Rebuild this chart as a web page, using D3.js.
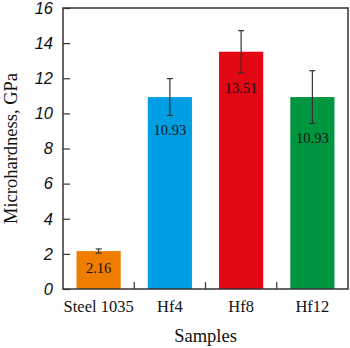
<!DOCTYPE html>
<html>
<head>
<meta charset="utf-8">
<script src="https://cdn.jsdelivr.net/npm/d3@7"></script>
<style>
  body { margin: 0; background: #fff; }
  svg { display: block; }
</style>
</head>
<body>
<svg id="chart" width="350" height="348"></svg>
<script>
const samples = ["Steel 1035", "Hf4", "Hf8", "Hf12"];
const hardness = [2.16, 10.93, 13.51, 10.93];
const errors = [0.12, 1.05, 1.2, 1.5];
const colors = ["#ef7d00", "#009fe3", "#e30613", "#009640"];
const yTicks = [0, 2, 4, 6, 8, 10, 12, 14, 16];

const data = samples.map((s, i) => ({ name: s, value: hardness[i], err: errors[i], color: colors[i] }));

const svg = d3.select("#chart");
const margin = { top: 8, right: 2, bottom: 59, left: 63 };
const width = 350 - margin.left - margin.right;
const height = 348 - margin.top - margin.bottom;

const g = svg.append("g").attr("transform", `translate(${margin.left},${margin.top})`);

// scales
const x = d3.scaleBand().domain(samples).range([0, width]).paddingInner(0.38).paddingOuter(0.19);
const y = d3.scaleLinear().domain([0, 16]).range([height, 0]);

// bars
g.selectAll("rect.bar")
  .data(data)
  .join("rect")
  .attr("class", "bar")
  .attr("x", (d) => x(d.name))
  .attr("y", (d) => y(d.value))
  .attr("width", x.bandwidth())
  .attr("height", (d) => y(0) - y(d.value))
  .attr("fill", (d) => d.color);

// error bars
const eb = g.append("g").attr("stroke", "#333").attr("stroke-width", 1.2);
data.forEach((d) => {
  const cx = x(d.name) + x.bandwidth() / 2;
  eb.append("line").attr("x1", cx).attr("x2", cx).attr("y1", y(d.value + d.err)).attr("y2", y(d.value - d.err));
  eb.append("line").attr("x1", cx - 3).attr("x2", cx + 3).attr("y1", y(d.value + d.err)).attr("y2", y(d.value + d.err));
  eb.append("line").attr("x1", cx - 3).attr("x2", cx + 3).attr("y1", y(d.value - d.err)).attr("y2", y(d.value - d.err));
});

// value labels
g.selectAll("text.val")
  .data(data)
  .join("text")
  .attr("class", "val")
  .attr("x", (d) => x(d.name) + x.bandwidth() / 2)
  .attr("y", (d) => y(d.value - d.err) + 20)
  .attr("text-anchor", "middle")
  .attr("font-family", "'Liberation Serif', 'Times New Roman', serif")
  .attr("font-size", 14.5)
  .attr("fill", "#111")
  .text((d) => d.value.toFixed(2));

// frame
g.append("rect")
  .attr("width", width)
  .attr("height", height)
  .attr("fill", "none")
  .attr("stroke", "#333")
  .attr("stroke-width", 1.5);

// y axis
const yAxis = d3.axisLeft(y).tickValues(yTicks).tickSize(-7).tickPadding(10);
const ya = g.append("g").call(yAxis);
ya.select(".domain").remove();
ya.selectAll("line").attr("stroke", "#333").attr("stroke-width", 1.2);
ya.selectAll("text")
  .attr("font-family", "'Liberation Sans', Arial, sans-serif")
  .attr("font-style", "italic")
  .attr("font-size", 16.5)
  .attr("fill", "#111");

// x axis: labels at band centres, ticks between bands
const xAxis = d3.axisBottom(x).tickSize(0).tickPadding(11);
const xa = g.append("g").attr("transform", `translate(0,${height})`).call(xAxis);
xa.select(".domain").remove();
xa.selectAll("text")
  .attr("font-family", "'Liberation Serif', 'Times New Roman', serif")
  .attr("font-size", 16.5)
  .attr("fill", "#111");

const step = x.step();
g.append("g")
  .selectAll("line")
  .data(samples.slice(1))
  .join("line")
  .attr("x1", (d) => x(d) - step * x.paddingInner() / 2)
  .attr("x2", (d) => x(d) - step * x.paddingInner() / 2)
  .attr("y1", height)
  .attr("y2", height - 7)
  .attr("stroke", "#333")
  .attr("stroke-width", 1.2);

// titles
svg.append("text")
  .attr("x", margin.left + width / 2)
  .attr("y", 342)
  .attr("text-anchor", "middle")
  .attr("font-family", "'Liberation Serif', 'Times New Roman', serif")
  .attr("font-size", 18.5)
  .attr("fill", "#111")
  .text("Samples");

svg.append("text")
  .attr("transform", `translate(17,${margin.top + height / 2}) rotate(-90)`)
  .attr("text-anchor", "middle")
  .attr("font-family", "'Liberation Serif', 'Times New Roman', serif")
  .attr("font-size", 18.5)
  .attr("fill", "#111")
  .text("Microhardness, GPa");
</script>
</body>
</html>
